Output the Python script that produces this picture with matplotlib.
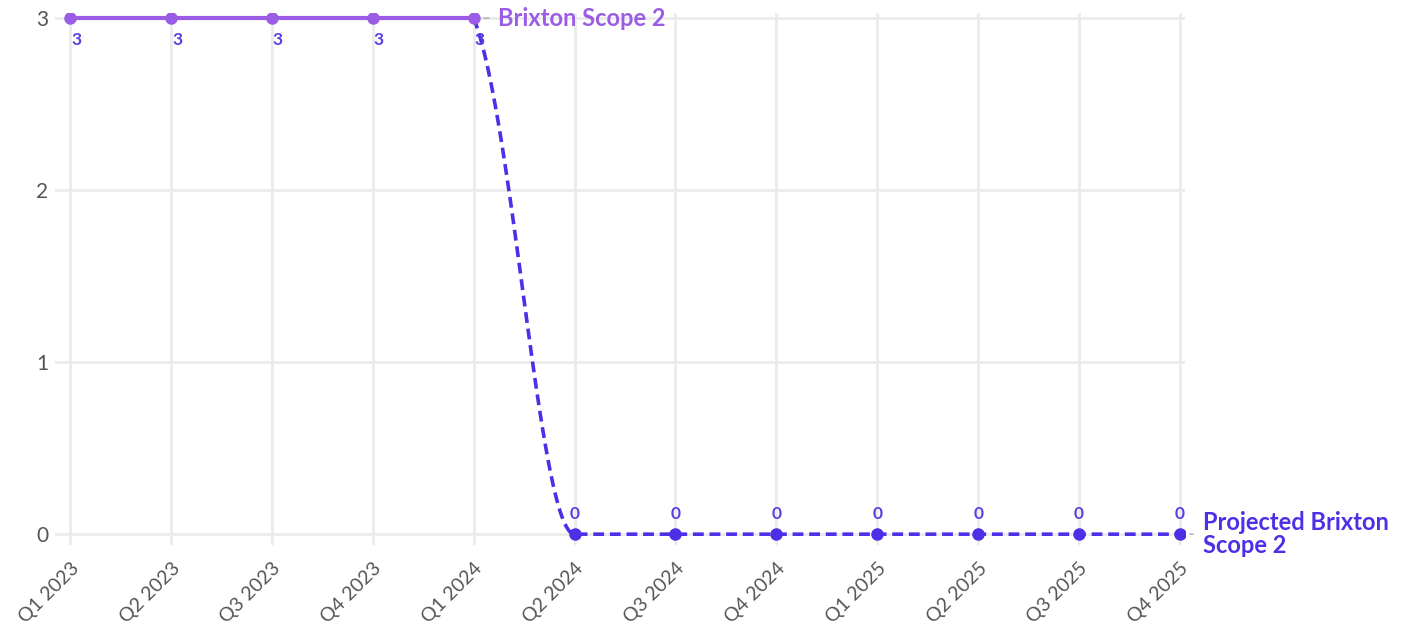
import numpy as np
import matplotlib.pyplot as plt
import matplotlib.transforms as mtransforms

quarters = ['Q1 2023', 'Q2 2023', 'Q3 2023', 'Q4 2023', 'Q1 2024', 'Q2 2024',
            'Q3 2024', 'Q4 2024', 'Q1 2025', 'Q2 2025', 'Q3 2025', 'Q4 2025']
actual = [3, 3, 3, 3, 3]                     # Q1 2023 - Q1 2024
projected = [3, 0, 0, 0, 0, 0, 0, 0]         # Q1 2024 - Q4 2025

c_actual = '#9b5de5'
c_proj = '#4f2ee8'
c_label = '#5a3ee0'

plt.rcParams['font.family'] = ['Lato', 'DejaVu Sans']

fig = plt.figure(figsize=(14.23, 6.24), dpi=100)
ax = fig.add_axes([0.0387, 0.1274, 0.794, 0.8518])

x_act = np.arange(len(actual))
x_proj = np.arange(len(actual) - 1, len(quarters))

# smooth spline-like segment for the first step of the projection
x0, y0 = x_proj[0], projected[0]
x1, y1 = x_proj[1], projected[1]
dx, dy = x1 - x0, y0 - y1
p0 = np.array([x0, y0])
c1 = np.array([x0 + 0.4 * dx, y0 - 0.2 * dy])
c2 = np.array([x0 + 0.65 * dx, y1])
p1 = np.array([x1, y1])
t = np.linspace(0, 1, 80)[:, None]
bez = (1 - t) ** 3 * p0 + 3 * (1 - t) ** 2 * t * c1 + 3 * (1 - t) * t ** 2 * c2 + t ** 3 * p1
px = np.concatenate([bez[:, 0], x_proj[2:]])
py = np.concatenate([bez[:, 1], projected[2:]])

ax.plot(px, py, color=c_proj, lw=2.6, ls=(0, (3, 1.6)), zorder=3, solid_capstyle='butt')
ax.plot(x_proj[1:], projected[1:], 'o', color=c_proj, ms=8, zorder=4)
ax.plot(x_act, actual, color=c_actual, lw=3, marker='o', ms=8, zorder=5)

for xi, v in zip(x_act, actual):
    ax.annotate(str(v), (xi, v), xytext=(6, -22), textcoords='offset pixels',
                ha='center', va='center', fontsize=12.5, fontweight='bold', color=c_label)
for xi, v in zip(x_proj[1:], projected[1:]):
    ax.annotate(str(v), (xi, v), xytext=(0, 20), textcoords='offset pixels',
                ha='center', va='center', fontsize=12.5, fontweight='bold', color=c_label)

# end labels with small connectors
ax.annotate('Brixton Scope 2', (x_act[-1], actual[-1]), xytext=(24, 0),
            textcoords='offset pixels', ha='left', va='center', fontsize=17,
            fontweight='bold', color=c_actual, annotation_clip=False)
ax.annotate('', (x_act[-1] + 0.07, actual[-1]), xytext=(x_act[-1] + 0.18, actual[-1]),
            arrowprops=dict(arrowstyle='-', color='#aaaaaa', lw=1), annotation_clip=False)
ax.annotate('Projected Brixton\nScope 2', (x_proj[-1], projected[-1]), xytext=(23, 0),
            textcoords='offset pixels', ha='left', va='center', fontsize=17,
            fontweight='bold', color=c_proj, linespacing=1.0, annotation_clip=False)
ax.annotate('', (x_proj[-1] + 0.07, projected[-1]), xytext=(x_proj[-1] + 0.16, projected[-1]),
            arrowprops=dict(arrowstyle='-', color='#aaaaaa', lw=1), annotation_clip=False)

ax.set_xlim(-0.15, len(quarters) - 1 + 0.05)
ax.set_ylim(-0.06, 3.03)
ax.set_xticks(range(len(quarters)))
ax.set_xticklabels(quarters, rotation=45, ha='right', va='center', rotation_mode='anchor')
ax.set_yticks([0, 1, 2, 3])
ax.tick_params(axis='y', length=0, labelsize=15, labelcolor='#555555', pad=5)
ax.tick_params(axis='x', length=0, labelsize=14, labelcolor='#555555', pad=15)
shift = mtransforms.ScaledTranslation(6 / 100, 0, fig.dpi_scale_trans)
for lbl in ax.get_xticklabels():
    lbl.set_transform(lbl.get_transform() + shift)
ax.grid(True, color='#ebebeb', lw=2)
ax.set_axisbelow(True)
for s in ax.spines.values():
    s.set_visible(False)

fig.savefig('out.png', dpi=100)
